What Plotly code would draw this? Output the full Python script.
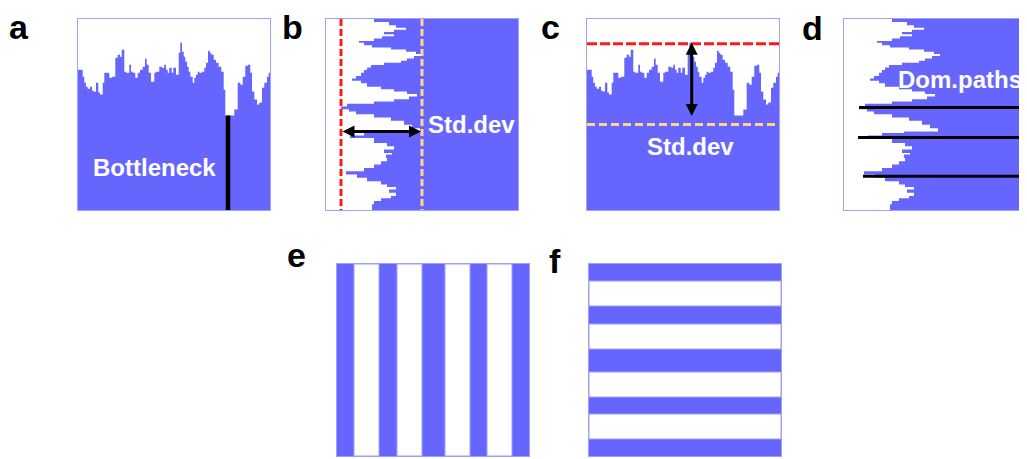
import plotly.graph_objects as go

# page body adds an 8px margin, so the figure is drawn 8px in from the window's corner
OFF = 8
WIN_W, WIN_H = 1027, 459
W, H = WIN_W - OFF, WIN_H - OFF
BLUE = "#6666ff"
EDGE = "#a0a0ff"
RED = "#ff1a1a"
YELLOW = "#ffd580"
FONT = "Liberation Sans, Arial, sans-serif"

# ---------------- data ----------------
# Panels a and c share one surface profile: column start (0-192) and white depth from top (0-191)
ac_pos = [0, 4.7, 6.3, 8, 9.7, 12, 14, 15.3, 18, 20.3, 22, 24.7, 26.3, 31.3, 34, 37.3, 39.7, 42,
          43.7, 46.3, 48, 51.3, 53, 54.7, 57.3, 59.7, 62, 64.7, 67, 68.7, 70.7, 73, 76.3, 78, 81.3,
          84, 86.3, 88, 89.7, 91.3, 93.7, 95.3, 98, 100.7, 102.3, 104, 105.7, 107.3, 109, 110.7,
          112.3, 114.7, 116.3, 118, 119.7, 121.3, 124, 126.3, 128, 130, 131.7, 133.3, 135.7, 138,
          140.7, 143.3, 145.7, 147.3, 156.3, 159.7, 162.3, 164.7, 167.3, 170, 172.3, 174, 176.3,
          179, 181.3, 184, 186.3, 189, 190.7]
ac_depth = [51, 58, 64, 68, 70, 68, 72, 73, 64, 74, 76, 64, 54, 59, 58, 39, 36, 38, 31, 53, 54, 46,
            53, 54, 59, 54, 51, 48, 40, 46, 54, 63, 54, 53, 48, 49, 46, 51, 54, 49, 54, 49, 56, 34,
            24, 33, 38, 43, 48, 53, 58, 64, 59, 56, 53, 54, 53, 49, 44, 32, 34, 36, 41, 44, 48, 53,
            71, 97, 91, 64, 66, 58, 47, 46, 54, 73, 81, 86, 84, 69, 64, 58, 54]

# Panels b and d share one profile: row start (0-191 from top) and white extent from left
bd_pos = [0, 3, 6.3, 8.7, 10.7, 13, 15.3, 17.3, 19.7, 22, 24, 26.3, 28.7, 30.7, 33, 35.3, 37.3,
          39.7, 42, 44, 46.3, 48.7, 51.3, 54, 57.3, 59.7, 62, 64.7, 68, 70.7, 73, 75.3, 78, 80.7,
          83, 85.3, 88, 90.7, 93, 95.7, 99, 102.3, 106.3, 109.7, 113, 114.7, 117, 119.7, 124.7,
          128, 131.3, 134.7, 136.3, 139.7, 143, 146.3, 149.7, 153, 156.3, 159.7, 163, 166.3, 169,
          171.3, 174.7, 178, 180.3, 183, 186.3]
bd_extent = [48, 63, 70, 80, 68, 58, 68, 56, 48, 33, 38, 46, 65, 80, 90, 96, 88, 81, 75, 58, 45,
             41, 38, 35, 30, 26, 35, 41, 55, 68, 81, 91, 83, 68, 48, 21, 15, 23, 30, 48, 65, 78,
             86, 94, 60, 38, 24, 48, 61, 68, 58, 66, 60, 61, 55, 48, 38, 20, 31, 41, 55, 61, 70,
             63, 70, 65, 55, 48, 46]

# reference levels
bottleneck_pos = 150
bottleneck_depth = 97
b_min_extent, b_max_extent = 15, 96        # red / yellow lines in b
b_arrow_pos = 113
c_top_depth, c_std_depth = 25, 106          # red / yellow lines in c
c_arrow_pos = 104.7
c_arrow_end = 99
d_path_pos = [89, 119, 158]
d_path_start = [15, 14, 19]

# white stripes of panels e and f (start, end along 0-192)
stripe_start = [17, 60, 108, 150]
stripe_end = [42, 85, 133, 175]

SIZE = 192

# ---------------- layout geometry (pixel boxes in the window) ----------------
boxes = {
    "a": (78, 270, 19, 210),
    "b": (326, 518, 19, 210),
    "c": (587, 779, 19, 210),
    "d": (844, 1027, 19, 210),
    "e": (337, 529, 264, 456),
    "f": (589, 781, 264, 456),
}
order = ["a", "b", "c", "d", "e", "f"]


def px(x):
    return (x - OFF) / W


def py(y):
    return 1 - (y - OFF) / H


fig = go.Figure()
layout = dict(width=W, height=H, margin=dict(l=0, r=0, t=0, b=0),
              paper_bgcolor="white", plot_bgcolor=BLUE, showlegend=False)

for i, k in enumerate(order, start=1):
    x0, x1, y0, y1 = boxes[k]
    xs = "" if i == 1 else str(i)
    xr = [0, SIZE] if k != "d" else [0, x1 - x0]
    yr = [SIZE, 0]
    layout["xaxis" + xs] = dict(domain=[max(px(x0), 0), min(px(x1), 1)], range=xr, anchor="y" + xs,
                                showgrid=False, zeroline=False, showticklabels=False, ticks="",
                                showline=True, mirror=True, linecolor=EDGE, linewidth=1,
                                fixedrange=True)
    layout["yaxis" + xs] = dict(domain=[max(py(y1), 0), min(py(y0), 1)], range=yr, anchor="x" + xs,
                                showgrid=False, zeroline=False, showticklabels=False, ticks="",
                                showline=True, mirror=(k != "d"), linecolor=EDGE, linewidth=1,
                                fixedrange=True)

# a and c: white region above the surface
for ax in ["", "3"]:
    fig.add_trace(go.Scatter(x=ac_pos + [SIZE], y=ac_depth + [ac_depth[-1]], mode="lines",
                             line=dict(shape="hv", width=0, color="white"),
                             fill="tozeroy", fillcolor="white",
                             xaxis="x" + ax, yaxis="y" + ax, hoverinfo="skip"))

# b and d: white region left of the profile
for ax in ["2", "4"]:
    fig.add_trace(go.Scatter(x=bd_extent + [bd_extent[-1]], y=bd_pos + [SIZE], mode="lines",
                             line=dict(shape="vh", width=0, color="white"),
                             fill="tozerox", fillcolor="white",
                             xaxis="x" + ax, yaxis="y" + ax, hoverinfo="skip"))

# a: bottleneck line
fig.add_trace(go.Scatter(x=[bottleneck_pos, bottleneck_pos], y=[bottleneck_depth, SIZE],
                         mode="lines", line=dict(color="black", width=4.5),
                         xaxis="x", yaxis="y"))

# b: red / yellow dashed reference lines
fig.add_trace(go.Scatter(x=[b_min_extent] * 2, y=[0, SIZE], mode="lines",
                         line=dict(color=RED, width=3, dash="7px,3px"), xaxis="x2", yaxis="y2"))
fig.add_trace(go.Scatter(x=[b_max_extent] * 2, y=[0, SIZE], mode="lines",
                         line=dict(color=YELLOW, width=3, dash="7px,3px"), xaxis="x2", yaxis="y2"))

# c: red / yellow dashed reference lines
fig.add_trace(go.Scatter(x=[0, SIZE], y=[c_top_depth] * 2, mode="lines",
                         line=dict(color=RED, width=3, dash="10px,3px"), xaxis="x3", yaxis="y3"))
fig.add_trace(go.Scatter(x=[0, SIZE], y=[c_std_depth] * 2, mode="lines",
                         line=dict(color=YELLOW, width=3, dash="8px,4px"), xaxis="x3", yaxis="y3"))

# d: dominant paths
for p, s in zip(d_path_pos, d_path_start):
    fig.add_trace(go.Scatter(x=[s, SIZE], y=[p, p], mode="lines",
                             line=dict(color="black", width=3), xaxis="x4", yaxis="y4"))

# e: vertical white stripes
centers = [(s + e) / 2 for s, e in zip(stripe_start, stripe_end)]
widths = [e - s for s, e in zip(stripe_start, stripe_end)]
fig.add_trace(go.Bar(x=centers, y=[SIZE] * len(centers), width=widths, base=0,
                     marker=dict(color="white", line=dict(color=EDGE, width=1)),
                     xaxis="x5", yaxis="y5", hoverinfo="skip"))
# f: horizontal white stripes
fig.add_trace(go.Bar(y=centers, x=[SIZE] * len(centers), width=widths, base=0, orientation="h",
                     marker=dict(color="white", line=dict(color=EDGE, width=1)),
                     xaxis="x6", yaxis="y6", hoverinfo="skip"))

ann = []
# panel letters (left edge, baseline in window pixels)
LET = 34
letters = [("a", 10, 39), ("b", 283, 39), ("c", 542, 39),
           ("d", 803, 40), ("e", 288, 267), ("f", 550, 273)]
for t, lx, base in letters:
    ann.append(dict(text="<b>%s</b>" % t, x=px(lx - 2), y=py(base - 0.3465 * LET),
                    xref="paper", yref="paper", xanchor="left", yanchor="middle",
                    showarrow=False, borderpad=0,
                    font=dict(family=FONT, size=LET, color="black")))

white_font = dict(family=FONT, size=24, color="white")
ann.append(dict(text="<b>Bottleneck</b>", x=76.5, y=149.5, xref="x", yref="y",
                xanchor="center", yanchor="middle", showarrow=False, font=white_font))
ann.append(dict(text="<b>Std.dev</b>", x=145, y=106, xref="x2", yref="y2",
                xanchor="center", yanchor="middle", showarrow=False, font=white_font))
ann.append(dict(text="<b>Std.dev</b>", x=103, y=128, xref="x3", yref="y3",
                xanchor="center", yanchor="middle", showarrow=False, font=white_font))
ann.append(dict(text="<b>Dom.paths</b>", x=52, y=60.5, xref="x4", yref="y4",
                xanchor="left", yanchor="middle", showarrow=False, font=white_font))

# double arrows
ann.append(dict(text="", x=b_max_extent - 1, y=b_arrow_pos, ax=b_min_extent, ay=b_arrow_pos,
                xref="x2", yref="y2", axref="x2", ayref="y2", showarrow=True,
                arrowside="end+start", arrowhead=2, startarrowhead=2, arrowsize=0.8,
                startarrowsize=0.8, arrowwidth=3, arrowcolor="black"))
ann.append(dict(text="", x=c_arrow_pos, y=c_top_depth - 1, ax=c_arrow_pos, ay=c_arrow_end,
                xref="x3", yref="y3", axref="x3", ayref="y3", showarrow=True,
                arrowside="end+start", arrowhead=2, startarrowhead=2, arrowsize=0.8,
                startarrowsize=0.8, arrowwidth=3, arrowcolor="black"))

layout["annotations"] = ann
fig.update_layout(**layout)
fig.write_html("out.html")
